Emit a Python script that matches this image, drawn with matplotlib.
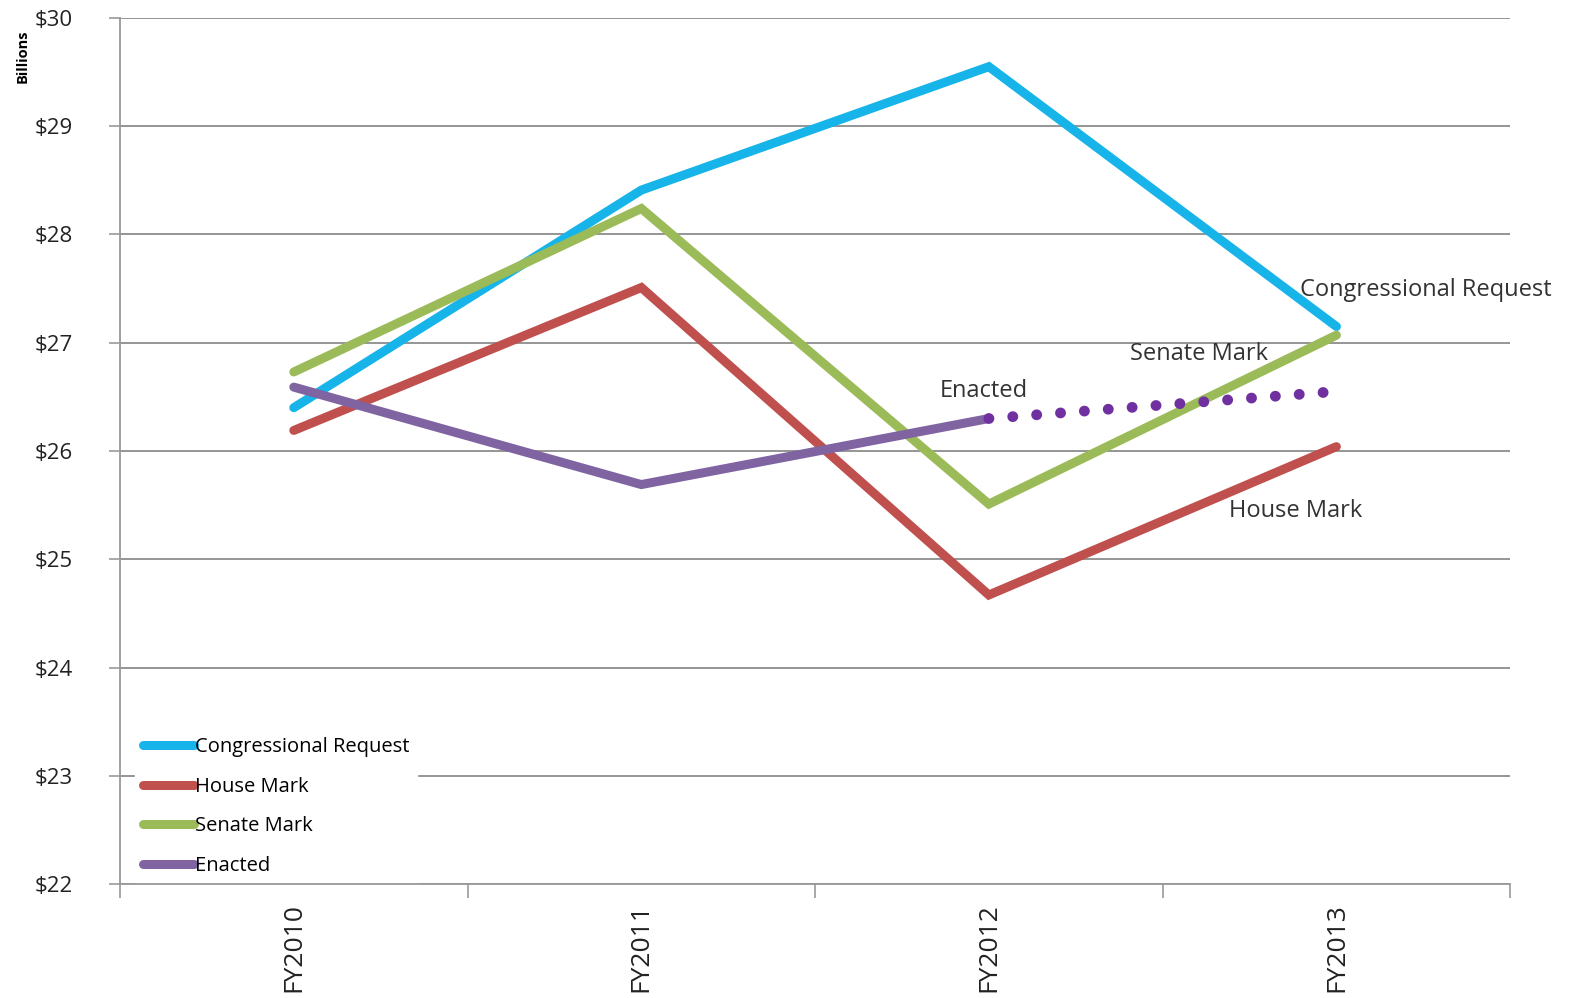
import matplotlib.pyplot as plt
from matplotlib.ticker import FixedLocator

plt.rcParams['font.family'] = ['Open Sans', 'DejaVu Sans']

years = ["FY2010", "FY2011", "FY2012", "FY2013"]
congressional_request = [26.40, 28.41, 29.55, 27.15]
house_mark = [26.19, 27.51, 24.67, 26.04]
senate_mark = [26.73, 28.24, 25.51, 27.07]
enacted = [26.59, 25.69, 26.30]
enacted_projected = [26.30, 26.55]

blue = "#17B4EA"
red = "#C0504D"
green = "#9BBB59"
purple = "#8064A2"
dark_purple = "#7030A0"

x = [i + 0.5 for i in range(len(years))]

fig = plt.figure(figsize=(15.69, 9.98), dpi=100)
ax = fig.add_axes([0.0765, 0.1142, 0.886, 0.8678])

lw = 6.5
ax.plot(x, congressional_request, color=blue, lw=lw, label="Congressional Request",
        solid_capstyle="round", solid_joinstyle="miter", zorder=3)
ax.plot(x, house_mark, color=red, lw=lw, label="House Mark",
        solid_capstyle="round", solid_joinstyle="miter", zorder=3)
ax.plot(x, senate_mark, color=green, lw=lw, label="Senate Mark",
        solid_capstyle="round", solid_joinstyle="miter", zorder=3)
ax.plot(x[:3], enacted, color=purple, lw=lw, label="Enacted",
        solid_capstyle="round", solid_joinstyle="miter", zorder=3)
ax.plot(x[2:], enacted_projected, color=dark_purple, lw=7.8,
        linestyle=(0, (0.01, 2.2)), dash_capstyle="round", zorder=3)

ax.set_xlim(0, 4)
ax.set_ylim(22, 30)
ax.set_yticks(range(22, 31))
ax.set_yticklabels([f"${v}" for v in range(22, 31)], fontsize=16, color="#222222")
ax.set_xticks(x)
ax.set_xticklabels(years, rotation=90, fontsize=19, color="#222222")
ax.xaxis.set_minor_locator(FixedLocator([0, 1, 2, 3, 4]))
ax.tick_params(axis="x", which="major", length=0, pad=14)
ax.tick_params(axis="x", which="minor", length=10, color="#999999", width=1.2)
ax.tick_params(axis="y", length=8, color="#999999", width=1.2, pad=26)

ax.grid(axis="y", color="#8c8c8c", lw=1.3, zorder=0)
for side in ["top", "right"]:
    ax.spines[side].set_visible(False)
for side in ["left", "bottom"]:
    ax.spines[side].set_color("#999999")
    ax.spines[side].set_linewidth(1.3)

fig.text(0.0147, 0.944, "Billions", rotation=90, fontsize=10.5, fontweight="bold",
         ha="center", va="center")

# series labels next to the lines
label_kw = dict(fontsize=17, color="#333333", va="center")
ax.text(3.396, 27.49, "Congressional Request", **label_kw)
ax.text(2.906, 26.90, "Senate Mark", **label_kw)
ax.text(2.36, 26.55, "Enacted", **label_kw)
ax.text(3.19, 25.45, "House Mark", **label_kw)

leg = ax.legend(loc="lower left", bbox_to_anchor=(0.011, 0.0), borderaxespad=0,
                fontsize=14.5, frameon=True, fancybox=False, handlelength=2.5,
                handletextpad=0.05, labelspacing=0.97, borderpad=0.4)
leg.get_frame().set_edgecolor("white")
leg.get_frame().set_facecolor("white")
leg.get_frame().set_alpha(1)
leg.set_zorder(2)
for line in leg.get_lines():
    line.set_linewidth(6.5)

fig.savefig("out.png", dpi=100)
